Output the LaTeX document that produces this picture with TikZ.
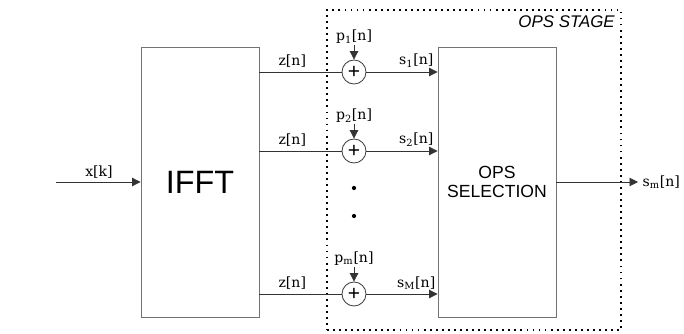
\documentclass[tikz,border=0pt]{standalone}
\usepackage{fontspec}
\setmainfont{DejaVu Serif}
\setsansfont{Liberation Sans}
\usetikzlibrary{arrows.meta,positioning}

\begin{document}
\begin{tikzpicture}[
  x=0.025cm, y=-0.025cm,
  block/.style={draw=black!55, line width=0.6pt, minimum width=2.95cm, minimum height=6.75cm, inner sep=0pt, align=center, font=\sffamily},
  adder/.style={draw=black!75, line width=0.6pt, circle, minimum size=0.6cm, inner sep=0pt, font=\sffamily\fontsize{15}{15}\selectfont},
  sig/.style={font=\fontsize{10}{11}\selectfont, inner sep=1pt},
  dotmark/.style={circle, fill=black, minimum size=3pt, inner sep=0pt},
  arrow/.style={-{Triangle[length=6pt,width=6pt]}, draw=black!80, line width=0.6pt},
  wire/.style={draw=black!80, line width=0.6pt}
]
\useasboundingbox (0,0) rectangle (684,334);

% OPS stage frame
\node[draw, dash pattern=on 1.3pt off 3pt, line width=1.3pt, minimum width=7.35cm, minimum height=8cm, inner sep=0pt] (stage) at (474,170) {};
\node[anchor=north east, font=\sffamily\itshape\fontsize{12}{12}\selectfont, inner sep=0pt] (stagelbl) at (615,15) {OPS STAGE};

% blocks
\node[block, font=\sffamily\fontsize{23}{23}\selectfont] (ifft) at (200,182) {IFFT};
\node[block, font=\sffamily\fontsize{12.5}{14}\selectfont] (sel) at (497,182) {OPS\\SELECTION};

% adders
\node[adder] (add1) at (354,72) {+};
\node[adder] (add2) at (354,151) {+};
\node[adder] (add3) at (354,294) {+};

\node[sig] (p1) at (354,37) {p\textsubscript{1}[n]};
\node[sig] (p2) at (354,116) {p\textsubscript{2}[n]};
\node[sig] (p3) at (354,259) {p\textsubscript{m}[n]};

\node[dotmark] (dot1) at (354,188) {};
\node[dotmark] (dot2) at (354,216) {};

% input and output
\coordinate (in) at (56,182);
\coordinate (out) at (638,182);
\node[sig, anchor=south] (xk) at (99,180) {x[k]};
\node[sig, anchor=west] (sm) at (641,182) {s\textsubscript{m}[n]};

\draw[arrow] (in) -- (ifft.west |- in);
\draw[arrow] (sel.east |- out) -- (out);

% IFFT outputs to adders
\draw[wire] (ifft.east |- add1) -- node[sig, above=2pt, pos=0.4] (z1) {z[n]} (add1);
\draw[wire] (ifft.east |- add2) -- node[sig, above=2pt, pos=0.4] (z2) {z[n]} (add2);
\draw[wire] (ifft.east |- add3) -- node[sig, above=2pt, pos=0.4] (z3) {z[n]} (add3);

% pilot sequences
\draw[arrow] (p1) -- (add1);
\draw[arrow] (p2) -- (add2);
\draw[arrow] (p3) -- (add3);

% adders to selection
\draw[arrow] (add1) -- node[sig, above=2pt, pos=0.7] (s1) {s\textsubscript{1}[n]} (sel.west |- add1);
\draw[arrow] (add2) -- node[sig, above=2pt, pos=0.7] (s2) {s\textsubscript{2}[n]} (sel.west |- add2);
\draw[arrow] (add3) -- node[sig, above=2pt, pos=0.7] (s3) {s\textsubscript{M}[n]} (sel.west |- add3);
\end{tikzpicture}
\end{document}
